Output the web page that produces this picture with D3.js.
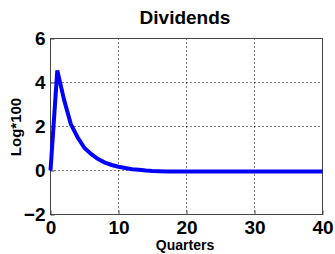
<!DOCTYPE html>
<html lang="en">
<head>
    <meta charset="UTF-8">
    <title>Dividends</title>
    <style>
        body{margin:0;background:#fff;}
        text{font-family:"Liberation Sans",Arial,sans-serif;font-weight:bold;}
    </style>
</head>
<body>
<script src="https://cdn.jsdelivr.net/npm/d3@7/dist/d3.min.js"></script>
<script>
    var quarters=d3.range(0,41);
    var dividends=[0,4.55,3.2,2.1,1.5,1.02,0.74,0.52,0.36,0.25,0.17,0.11,0.06,0.03,0.0,-0.02,-0.03,-0.04,-0.05,-0.05,-0.05,
        -0.05,-0.05,-0.05,-0.05,-0.05,-0.05,-0.05,-0.05,-0.05,-0.05,-0.05,-0.05,-0.05,-0.05,-0.05,-0.04,-0.04,-0.04,-0.04,-0.04];
    var xTicks=[0,10,20,30,40];
    var yTicks=[-2,0,2,4,6];

    var width=335,height=254;
    var padLeft=50.5,padRight=322.5,padTop=38.5,padBottom=214.5;

    var svg=d3.select('body').append('svg')
            .attr('width',width)
            .attr('height',height);

    var x=d3.scaleLinear().domain([0,40]).range([padLeft,padRight]);
    var y=d3.scaleLinear().domain([-2,6]).range([padBottom,padTop]);

    // grid
    svg.selectAll('.gx').data(xTicks.slice(1,-1)).enter().append('line')
            .attr('x1',d=>x(d)).attr('x2',d=>x(d))
            .attr('y1',padTop).attr('y2',padBottom)
            .attr('stroke','#000').attr('stroke-width',1)
            .attr('stroke-dasharray','1,3');
    svg.selectAll('.gy').data(yTicks.slice(1,-1)).enter().append('line')
            .attr('x1',padLeft).attr('x2',padRight)
            .attr('y1',d=>y(d)).attr('y2',d=>y(d))
            .attr('stroke','#000').attr('stroke-width',1)
            .attr('stroke-dasharray','1,3');

    // axes
    var xAxis=d3.axisBottom(x).tickValues(xTicks).tickSize(-4).tickPadding(6);
    var yAxis=d3.axisLeft(y).tickValues(yTicks).tickSize(-4).tickPadding(5);
    var gx=svg.append('g').attr('transform','translate(0,'+padBottom+')').call(xAxis);
    var gy=svg.append('g').attr('transform','translate('+padLeft+',0)').call(yAxis);
    [gx,gy].forEach(function(g){
        g.select('.domain').remove();
        g.selectAll('line').attr('stroke','#444');
        g.selectAll('text').attr('font-size','19px').attr('fill','#000')
                .style('font-family','"Liberation Sans",Arial,sans-serif').style('font-weight','bold');
    });
    gx.selectAll('text').attr('dy','0.71em');

    // box
    svg.append('rect')
            .attr('x',padLeft).attr('y',padTop)
            .attr('width',padRight-padLeft).attr('height',padBottom-padTop)
            .attr('fill','none').attr('stroke','#444').attr('stroke-width',1);

    // line
    var line=d3.line().x(function(d,i){return x(quarters[i]);}).y(function(d){return y(d);});
    svg.append('path')
            .datum(dividends)
            .attr('d',line)
            .attr('fill','none')
            .attr('stroke','#0000ff')
            .attr('stroke-width',4)
            .attr('stroke-linejoin','miter');

    // labels
    svg.append('text').attr('x',185).attr('y',24).attr('text-anchor','middle')
            .attr('font-size','19px').text('Dividends');
    svg.append('text').attr('x',185).attr('y',250).attr('text-anchor','middle')
            .attr('font-size','14px').text('Quarters');
    svg.append('text').attr('transform','translate(21,127) rotate(-90)').attr('text-anchor','middle')
            .attr('font-size','15px').text('Log*100');
</script>
</body>
</html>
